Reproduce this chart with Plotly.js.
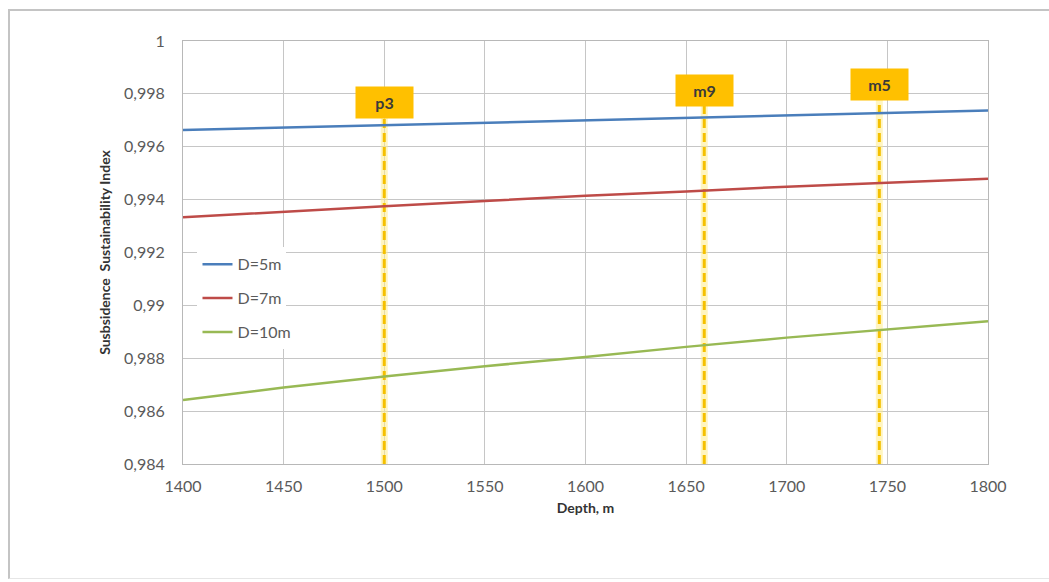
<!DOCTYPE html>
<html>
<head>
<meta charset="utf-8">
<script src="https://cdn.plot.ly/plotly-3.0.1.min.js"></script>
<style>
  html, body { margin: 0; padding: 0; background: #ffffff; }
  #wrap { position: relative; width: 1049px; height: 582px; overflow: hidden; }
  #chart { position: absolute; left: 0; top: 0; width: 1049px; height: 582px; }
  #frame { position: absolute; left: 8px; top: 9px; width: 1100px; height: 567px;
           border-left: 2px solid #c4c4c4; border-top: 2px solid #c4c4c4; border-bottom: 1px solid #e6e6e6;
           pointer-events: none; }
</style>
</head>
<body>
<div id="wrap">
  <div id="chart"></div>
  <div id="frame"></div>
</div>
<script>
// Depth (m)
var depth = [1400, 1450, 1500, 1550, 1600, 1650, 1700, 1750, 1800];
// Subsidence Sustainability Index by well depth D
var d5  = [0.99663, 0.99672, 0.99682, 0.99692, 0.99701, 0.99710, 0.99718, 0.99727, 0.99737];
var d7  = [0.99333, 0.99355, 0.99375, 0.99395, 0.99415, 0.99431, 0.99449, 0.99464, 0.99479];
var d10 = [0.98642, 0.98689, 0.98731, 0.98770, 0.98805, 0.98843, 0.98878, 0.98910, 0.98940];
var seriesNames = ['D=5m', 'D=7m', 'D=10m'];

// Marked wells
var wellNames  = ['p3', 'm9', 'm5'];
var wellDepths = [1500, 1659, 1746];
var wellLabelY = [0.99769, 0.99811, 0.99837];

// Axis ticks
var xTicks = [1400, 1450, 1500, 1550, 1600, 1650, 1700, 1750, 1800];
var yTicks = [0.984, 0.986, 0.988, 0.99, 0.992, 0.994, 0.996, 0.998, 1];
var yTickText = ['0,984', '0,986', '0,988', '0,99', '0,992', '0,994', '0,996', '0,998', '1'];

var yMin = 0.984, yMax = 1;
var FONT = 'Lato, "Open Sans", sans-serif';
var tickFont = {family: FONT, size: 16, color: '#5a5a5a'};

var traces = [];
for (var i = 0; i < wellNames.length; i++) {
  traces.push({
    x: [wellDepths[i], wellDepths[i]], y: [yMin, wellLabelY[i]],
    mode: 'lines', line: {color: 'rgba(255,236,140,0.55)', width: 7},
    showlegend: false, hoverinfo: 'skip'
  });
  traces.push({
    x: [wellDepths[i], wellDepths[i]], y: [yMin, wellLabelY[i]],
    mode: 'lines', line: {color: '#F5C000', width: 3, dash: '9px,5px'},
    showlegend: false, hoverinfo: 'skip'
  });
}
var cols = ['#4A7EBB', '#BE4B48', '#98B954'];
var vals = [d5, d7, d10];
var legendIds = ['legend', 'legend2', 'legend3'];
for (var k = 0; k < 3; k++) {
  traces.push({
    x: depth, y: vals[k], name: seriesNames[k], mode: 'lines',
    line: {color: cols[k], width: 2.5}, legend: legendIds[k]
  });
}

var annotations = [];
for (var j = 0; j < wellNames.length; j++) {
  annotations.push({
    x: wellDepths[j], y: wellLabelY[j], xref: 'x', yref: 'y',
    text: '<b>' + wellNames[j] + '</b>', showarrow: false,
    font: {family: FONT, size: 16, color: '#3a3a3a'},
    bgcolor: '#FFC000', borderpad: 6, width: 45, height: 19
  });
}

function leg(y) {
  return {
    x: 0.018, y: y, xanchor: 'left', yanchor: 'middle',
    bgcolor: '#ffffff', borderwidth: 0,
    font: {family: FONT, size: 16, color: '#5a5a5a'}
  };
}

var layout = {
  width: 1049, height: 582,
  margin: {l: 183, r: 61, t: 41, b: 118},
  paper_bgcolor: '#ffffff', plot_bgcolor: '#ffffff',
  showlegend: true,
  legend: leg(0.472),
  legend2: leg(0.392),
  legend3: leg(0.312),
  xaxis: {
    range: [1400, 1800], tickvals: xTicks, ticktext: xTicks.map(String),
    showgrid: true, gridcolor: '#c6c6c6', gridwidth: 1,
    showline: true, linecolor: '#b8b8b8', linewidth: 1, mirror: true,
    ticks: '', tickfont: tickFont, zeroline: false, ticklabelstandoff: 8,
    title: {text: '<b>Depth, m</b>', font: {family: FONT, size: 14, color: '#333333'}, standoff: 8}
  },
  yaxis: {
    range: [yMin, yMax], tickvals: yTicks, ticktext: yTickText,
    showgrid: true, gridcolor: '#c6c6c6', gridwidth: 1,
    showline: true, linecolor: '#b8b8b8', linewidth: 1, mirror: true,
    ticks: '', tickfont: tickFont, zeroline: false, ticklabelstandoff: 14,
    title: {text: '<b>Susbsidence  Sustainability Index</b>', font: {family: FONT, size: 14, color: '#333333'}, standoff: 10}
  },
  annotations: annotations
};

Plotly.newPlot('chart', traces, layout, {displayModeBar: false, staticPlot: true});
</script>
</body>
</html>
